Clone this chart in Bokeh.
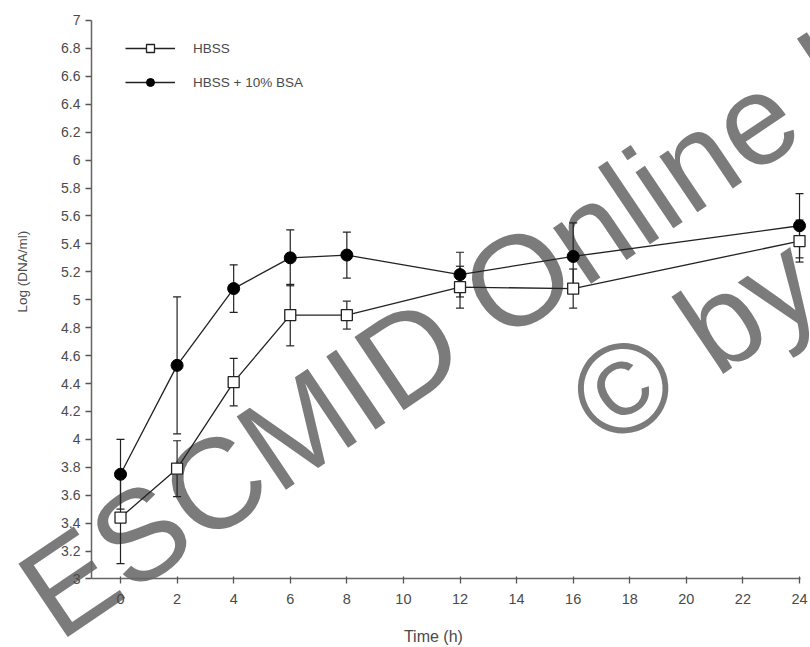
import math
from bokeh.plotting import figure
from bokeh.models import (Range1d, FixedTicker, Whisker, TeeHead, ColumnDataSource,
                          Legend, LegendItem, Label)
from bokeh.embed import file_html
from bokeh.resources import INLINE

# ---- data ----
time_h = [0, 2, 4, 6, 8, 12, 16, 24]
hbss = [3.44, 3.79, 4.41, 4.89, 4.89, 5.09, 5.08, 5.42]
hbss_err = [0.33, 0.20, 0.17, 0.22, 0.10, 0.15, 0.14, 0.15]
hbss_bsa = [3.75, 4.53, 5.08, 5.30, 5.32, 5.18, 5.31, 5.53]
hbss_bsa_err = [0.25, 0.49, 0.17, 0.20, 0.165, 0.16, 0.24, 0.23]

x_ticks = [0, 2, 4, 6, 8, 10, 12, 14, 16, 18, 20, 22, 24]
y_ticks = [3, 3.2, 3.4, 3.6, 3.8, 4, 4.2, 4.4, 4.6, 4.8, 5, 5.2, 5.4, 5.6, 5.8,
           6, 6.2, 6.4, 6.6, 6.8, 7]
y_tick_labels = ["3", "3.2", "3.4", "3.6", "3.8", "4", "4.2", "4.4", "4.6", "4.8", "5",
                 "5.2", "5.4", "5.6", "5.8", "6", "6.2", "6.4", "6.6", "6.8", "7"]
series_names = ["HBSS", "HBSS + 10% BSA"]
x_title = "Time (h)"
y_title = "Log (DNA/ml)"
watermark_lines = ["ESCMID Online Lecture Library", "\u00a9 by author"]

FONT = "Liberation Sans"
INK = "#222222"
TXT = "#4a4a4a"
X_AXIS_SPAN = (-1.025, 24.035)
Y_AXIS_SPAN = (3, 7)

# the frame fills the whole canvas; the axes are pinned inside it
p = figure(width=810, height=647, output_backend="svg", toolbar_location=None,
           x_range=Range1d(-4.2415, 24.388), y_range=Range1d(2.5094, 7.1432),
           min_border_left=0, min_border_right=0, min_border_top=0,
           min_border_bottom=0)
p.xgrid.visible = False
p.ygrid.visible = False
p.outline_line_color = None
p.background_fill_color = "white"

# watermark (under the data)
ang = math.radians(34)
for (wx, wy), txt in zip([(-3.05, 2.808), (16.375, 4.18)], watermark_lines):
    p.add_layout(Label(x=wx, y=wy, text=txt, angle=ang,
                       text_font=FONT, text_font_size="128px", text_color="#7b7b7b",
                       text_align="left", text_baseline="alphabetic",
                       level="underlay"))

# error bars
src1 = ColumnDataSource(dict(t=time_h,
                             lo=[v - e for v, e in zip(hbss, hbss_err)],
                             hi=[v + e for v, e in zip(hbss, hbss_err)]))
src2 = ColumnDataSource(dict(t=time_h,
                             lo=[v - e for v, e in zip(hbss_bsa, hbss_bsa_err)],
                             hi=[v + e for v, e in zip(hbss_bsa, hbss_bsa_err)]))
for s in (src1, src2):
    w = Whisker(source=s, base="t", lower="lo", upper="hi", dimension="height",
                line_color=INK, line_width=1.2,
                upper_head=TeeHead(size=8, line_color=INK, line_width=1.2),
                lower_head=TeeHead(size=8, line_color=INK, line_width=1.2))
    p.add_layout(w)

l1 = p.line(time_h, hbss, line_color=INK, line_width=1.3)
m1 = p.scatter(time_h, hbss, marker="square", size=11, fill_color="white",
               line_color=INK, line_width=1.3)
l2 = p.line(time_h, hbss_bsa, line_color=INK, line_width=1.3)
m2 = p.scatter(time_h, hbss_bsa, marker="circle", size=12, fill_color="black",
               line_color="black")

legend = Legend(items=[LegendItem(label=series_names[0], renderers=[l1, m1]),
                       LegendItem(label=series_names[1], renderers=[l2, m2])],
                location=(125, 555), padding=0, margin=0, spacing=14,
                glyph_width=50, glyph_height=20, label_height=20, label_standoff=18,
                border_line_color=None, background_fill_alpha=0,
                label_text_font=FONT, label_text_font_size="13.5px",
                label_text_color=TXT)
p.add_layout(legend)

# axes
p.xaxis.ticker = FixedTicker(ticks=x_ticks)
p.yaxis.ticker = FixedTicker(ticks=y_ticks)
p.yaxis.major_label_overrides = {t: l for t, l in zip(y_ticks, y_tick_labels)}
p.xaxis.fixed_location = Y_AXIS_SPAN[0]
p.yaxis.fixed_location = X_AXIS_SPAN[0]
p.xaxis.bounds = X_AXIS_SPAN
p.yaxis.bounds = Y_AXIS_SPAN
for ax in (p.xaxis[0], p.yaxis[0]):
    ax.axis_line_color = "#666666"
    ax.axis_line_width = 1.5
    ax.major_tick_line_color = "#555555"
    ax.major_tick_line_width = 1.3
    ax.minor_tick_line_color = None
    ax.major_label_text_font = FONT
    ax.major_label_text_color = TXT
p.xaxis.major_tick_out = 5
p.xaxis.major_tick_in = 2
p.xaxis.major_label_text_font_size = "14.5px"
p.xaxis.major_label_standoff = 10
p.yaxis.major_tick_out = 6
p.yaxis.major_tick_in = 0
p.yaxis.major_label_text_font_size = "14px"
p.yaxis.major_label_standoff = 5

# axis titles
p.add_layout(Label(x=11.06, y=2.588, text=x_title, text_font=FONT,
                   text_font_size="16px", text_color=TXT,
                   text_align="center", text_baseline="middle"))
p.add_layout(Label(x=-3.464, y=5.202, text=y_title, text_font=FONT, angle=math.pi / 2,
                   text_font_size="13.5px", text_color=TXT,
                   text_align="center", text_baseline="middle"))

open("out.html", "w").write(file_html(p, INLINE))
